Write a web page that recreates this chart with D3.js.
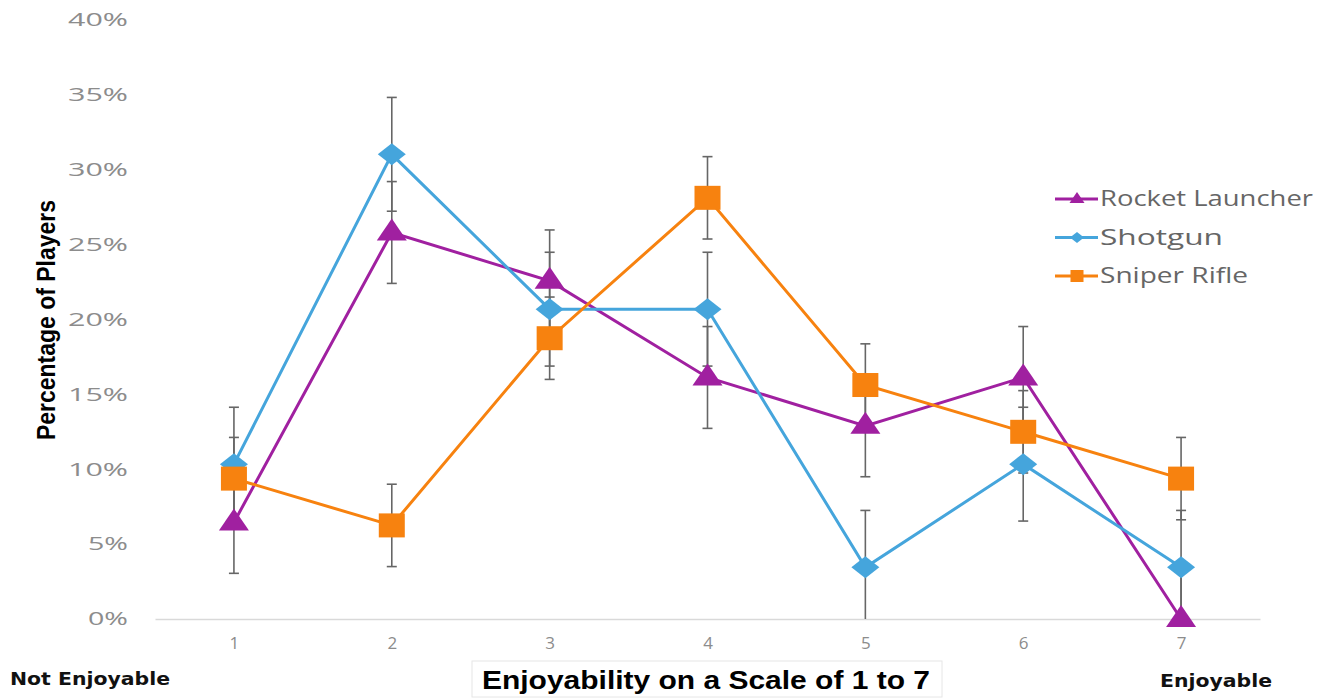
<!DOCTYPE html>
<html><head><meta charset="utf-8">
<script src="https://cdn.jsdelivr.net/npm/d3@7"></script>
<style>body{margin:0;background:#fff}svg{display:block}</style>
</head><body>
<script>
const categories = ["1","2","3","4","5","6","7"];
const yTicks = [0,5,10,15,20,25,30,35,40];
const seriesNames = ["Rocket Launcher","Shotgun","Sniper Rifle"];
const rocketValues = [6.45,25.81,22.58,16.13,12.90,16.13,0];
const shotgunValues = [10.34,31.03,20.69,20.69,3.45,10.34,3.45];
const sniperValues = [9.375,6.25,18.75,28.125,15.625,12.5,9.375];
const rocketError = [3.4,3.4,3.4,3.4,3.4,3.4,3.4];
const shotgunError = [3.8,3.8,3.8,3.8,3.8,3.8,3.8];
const sniperError = [2.75,2.75,2.75,2.75,2.75,2.75,2.75];
const colors = ["#A020A0","#45A5DC","#F7820F"];
const shapes = ["triangle","diamond","square"];

const W=1333,H=698;
const svg=d3.select("body").append("svg").attr("width",W).attr("height",H);
const x=d3.scalePoint().domain(categories).range([155,1260]).padding(0.5);
const y=d3.scaleLinear().domain([0,40]).range([619,20]);

// y axis labels
const yAxis=d3.axisLeft(y).tickValues(yTicks).tickSize(0).tickPadding(0).tickFormat(d=>d+"%");
const yg=svg.append("g").attr("transform","translate(128,0)").call(yAxis);
yg.select(".domain").remove();
yg.selectAll("text").attr("fill","#8c8c8c").style("font-family","'Open Sans',sans-serif").style("font-size","18px")
  .attr("textLength",function(){return this.textContent.length*20;}).attr("lengthAdjust","spacingAndGlyphs");

// x axis
const xAxis=d3.axisBottom(x).tickSize(0).tickPadding(18);
const xg=svg.append("g").attr("transform","translate(0,"+y(0)+")").call(xAxis);
xg.select(".domain").attr("stroke","#d9d9d9").attr("stroke-width",1.5);
xg.selectAll("text").attr("fill","#8c8c8c").style("font-family","'Open Sans',sans-serif").style("font-size","17px");

const series=[
 {name:seriesNames[0],values:rocketValues,err:rocketError,color:colors[0],shape:shapes[0]},
 {name:seriesNames[1],values:shotgunValues,err:shotgunError,color:colors[1],shape:shapes[1]},
 {name:seriesNames[2],values:sniperValues,err:sniperError,color:colors[2],shape:shapes[2]}
];

function marker(g,shape,color,s){
  if(shape==="square") g.append("rect").attr("x",-13*s).attr("y",-12*s).attr("width",26*s).attr("height",24*s).attr("fill",color);
  else if(shape==="diamond") g.append("path").attr("d",`M0,${-11*s}L${14*s},0L0,${11*s}L${-14*s},0Z`).attr("fill",color);
  else g.append("path").attr("d",`M0,${-14*s}L${15*s},${8*s}L${-15*s},${8*s}Z`).attr("fill",color);
}

// error bars
const eg=svg.append("g");
series.forEach(s=>{
  s.values.forEach((v,i)=>{
    const cx=x(categories[i]);
    const hi=Math.min(40,v+s.err[i]), lo=Math.max(0,v-s.err[i]);
    eg.append("line").attr("x1",cx).attr("x2",cx).attr("y1",y(hi)).attr("y2",y(lo)).attr("stroke","#666").attr("stroke-width",1.6);
    eg.append("line").attr("x1",cx-5).attr("x2",cx+5).attr("y1",y(hi)).attr("y2",y(hi)).attr("stroke","#666").attr("stroke-width",1.6);
    if(v-s.err[i]>0) eg.append("line").attr("x1",cx-5).attr("x2",cx+5).attr("y1",y(lo)).attr("y2",y(lo)).attr("stroke","#666").attr("stroke-width",1.6);
  });
});

// lines and markers
const line=d3.line().x((d,i)=>x(categories[i])).y(d=>y(d));
series.forEach(s=>{
  svg.append("path").datum(s.values).attr("d",line).attr("fill","none").attr("stroke",s.color).attr("stroke-width",3);
});
series.forEach(s=>{
  s.values.forEach((v,i)=>{
    const g=svg.append("g").attr("transform",`translate(${x(categories[i])},${y(v)})`);
    marker(g,s.shape,s.color,1);
  });
});

// legend
const lg=svg.append("g");
const legendLen=[213,123,148];
series.forEach((s,i)=>{
  const ly=199+i*38.5;
  lg.append("line").attr("x1",1055).attr("x2",1098).attr("y1",ly).attr("y2",ly).attr("stroke",s.color).attr("stroke-width",3);
  const g=lg.append("g").attr("transform",`translate(1077,${ly})`);
  marker(g,s.shape,s.color,0.5);
  lg.append("text").attr("x",1100).attr("y",ly).attr("dy","0.35em").text(s.name)
    .attr("textLength",legendLen[i]).attr("lengthAdjust","spacingAndGlyphs")
    .attr("fill","#666").style("font-family","'Open Sans',sans-serif").style("font-size","21px");
});

// axis titles
svg.append("text").attr("transform","translate(46,320) rotate(-90)").attr("text-anchor","middle").attr("dy","0.35em")
  .text("Percentage of Players").attr("textLength",240).attr("lengthAdjust","spacingAndGlyphs")
  .attr("fill","#000").style("font-family","'Liberation Sans',sans-serif").style("font-weight","bold").style("font-size","25px");
svg.append("rect").attr("x",472).attr("y",661).attr("width",470).attr("height",36).attr("fill","none").attr("stroke","#e6e6e6");
svg.append("text").attr("x",706).attr("y",680).attr("text-anchor","middle").attr("dy","0.35em")
  .text("Enjoyability on a Scale of 1 to 7").attr("textLength",448).attr("lengthAdjust","spacingAndGlyphs")
  .attr("fill","#000").style("font-family","'Liberation Sans',sans-serif").style("font-weight","bold").style("font-size","25px");
svg.append("text").attr("x",10).attr("y",679).attr("dy","0.35em").text("Not Enjoyable")
  .attr("textLength",160).attr("lengthAdjust","spacingAndGlyphs")
  .attr("fill","#111").style("font-family","'DejaVu Sans',sans-serif").style("font-weight","bold").style("font-size","18px");
svg.append("text").attr("x",1160).attr("y",681).attr("dy","0.35em").text("Enjoyable")
  .attr("textLength",112).attr("lengthAdjust","spacingAndGlyphs")
  .attr("fill","#111").style("font-family","'DejaVu Sans',sans-serif").style("font-weight","bold").style("font-size","18px");
</script>
</body></html>
